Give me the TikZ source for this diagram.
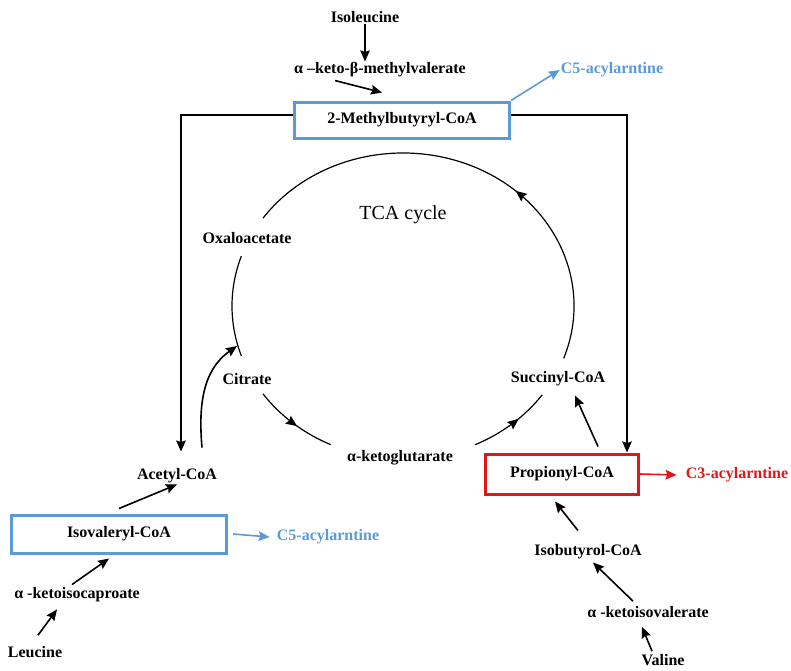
\documentclass[tikz,border=0pt]{standalone}
\usepackage{fontspec}
\setmainfont{Liberation Serif}
\usetikzlibrary{arrows.meta,decorations.markings}
\definecolor{boxblue}{RGB}{91,155,213}
\definecolor{boxred}{RGB}{222,24,24}

\begin{document}
\begin{tikzpicture}[x=1pt, y=1pt,
  txt/.style = {font=\fontsize{16}{18}\selectfont\bfseries, inner sep=1pt},
  enz/.style = {draw, line width=3pt, minimum height=36pt, font=\fontsize{16}{18}\selectfont\bfseries},
  arr/.style = {-{Stealth[length=11pt,width=9.5pt,inset=1.5pt]}, line width=1.6pt},
  cyc/.style = {line width=1.2pt},
  mid/.style = {postaction={decorate}, decoration={markings, mark=at position #1 with {\arrow{Stealth[length=11pt,width=9.5pt,inset=1.5pt]}}}}]

\useasboundingbox (0,0) rectangle (791,-670);

\node[txt, xshift=365pt, yshift=-17pt] (ile) {Isoleucine};
\node[txt, xshift=380pt, yshift=-70pt] (kmv) {α –keto-β-methylvalerate};
\node[enz, draw=boxblue, minimum width=215pt, xshift=402pt, yshift=-120pt] (mbc) {2-Methylbutyryl-CoA};
\node[txt, text=boxblue, xshift=612pt, yshift=-70pt] (c5a) {C5-acylarntine};
\node[font=\fontsize{20}{22}\selectfont, xshift=403pt, yshift=-215pt] (tca) {TCA cycle};
\node[txt, xshift=247pt, yshift=-238pt] (oxa) {Oxaloacetate};
\node[txt, xshift=247pt, yshift=-379pt] (cit) {Citrate};
\node[txt, xshift=558pt, yshift=-379pt] (suc) {Succinyl-CoA};
\node[txt, xshift=400pt, yshift=-458pt] (akg) {α-ketoglutarate};
\node[txt, xshift=177pt, yshift=-476pt] (acc) {Acetyl-CoA};
\node[enz, draw=boxblue, minimum width=215pt, minimum height=38pt, xshift=119pt, yshift=-534pt] (ivc) {Isovaleryl-CoA};
\node[txt, text=boxblue, xshift=328pt, yshift=-537pt] (c5b) {C5-acylarntine};
\node[txt, xshift=77pt, yshift=-595pt] (kic) {α -ketoisocaproate};
\node[txt, xshift=35pt, yshift=-652pt] (leu) {Leucine};
\node[enz, draw=boxred, minimum width=153pt, minimum height=40pt, xshift=562pt, yshift=-474pt] (pro) {Propionyl-CoA};
\node[txt, text=boxred, xshift=737pt, yshift=-475pt] (c3a) {C3-acylarntine};
\node[txt, xshift=588pt, yshift=-552pt] (ibc) {Isobutyrol-CoA};
\node[txt, xshift=648pt, yshift=-612pt] (kiv) {α -ketoisovalerate};
\node[txt, xshift=663pt, yshift=-660pt] (val) {Valine};

\coordinate (tcac) at (403,-306);
\coordinate (citin) at (237,-346);

% cycle
\draw[cyc, mid=0.4] ([shift={(-20:171pt and 153pt)}]tcac) arc[start angle=-20, end angle=145, x radius=171pt, y radius=153pt];
\draw[cyc] ([shift={(161:171pt and 153pt)}]tcac) arc[start angle=161, end angle=199, x radius=171pt, y radius=153pt];
\draw[cyc, mid=0.55] ([shift={(215:171pt and 153pt)}]tcac) arc[start angle=215, end angle=245, x radius=171pt, y radius=153pt];
\draw[cyc, mid=0.6] ([shift={(295:171pt and 153pt)}]tcac) arc[start angle=295, end angle=324.5, x radius=171pt, y radius=153pt];

\draw[arr] (ile) -- (ile |- kmv.north);
\draw[arr] ([xshift=-45pt,yshift=-2pt]kmv.south) -- ([xshift=-20pt,yshift=8pt]mbc.north);
\draw[arr, color=boxblue] (mbc.north east) -- (c5a.west);
\draw[arr] ([yshift=5pt]mbc.west) -| ([xshift=4pt,yshift=16pt]acc.north);
\draw[arr] ([yshift=5pt]mbc.east) -| ([xshift=-13pt]pro.north east);
\draw[arr] ([xshift=25pt,yshift=20pt]acc.north) to[out=95, in=215] (citin);
\draw[arr] ([yshift=5pt]ivc.north) -- (acc.south);
\draw[arr, color=boxblue] ([xshift=5pt]ivc.east) -- ([xshift=-6pt]c5b.west);
\draw[arr] ([xshift=-5pt,yshift=2pt]kic.north) -- ([xshift=-10pt,yshift=-4pt]ivc.south);
\draw[arr] ([xshift=3pt,yshift=10pt]leu.north) -- ([xshift=-20pt,yshift=-6pt]kic.south);
\draw[arr] ([xshift=36pt,yshift=6pt]pro.north) -- ([xshift=17pt,yshift=-8pt]suc.south);
\draw[arr] ([xshift=-10pt,yshift=13pt]ibc.north) -- ([xshift=-7pt,yshift=-6pt]pro.south);
\draw[arr] ([xshift=-15pt,yshift=4pt]kiv.north) -- ([xshift=5pt,yshift=-2pt]ibc.south);
\draw[arr] ([xshift=-11pt,yshift=2pt]val.north) -- ([xshift=-6pt,yshift=-8pt]kiv.south);
\draw[arr, color=boxred] (pro.east) -- ([xshift=-8pt]c3a.west);

\end{tikzpicture}
\end{document}
